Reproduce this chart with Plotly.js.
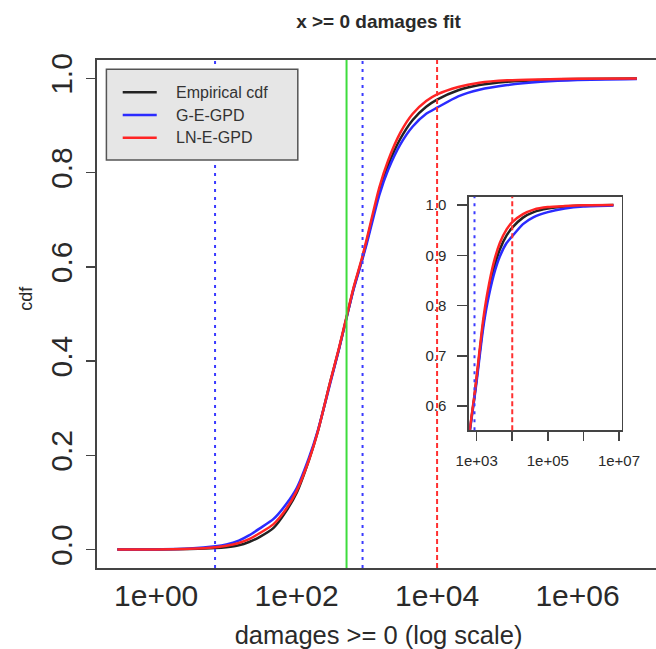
<!DOCTYPE html>
<html>
<head>
<meta charset="utf-8">
<script src="https://cdn.plot.ly/plotly-3.0.1.min.js"></script>
<style>html,body{margin:0;padding:0;overflow:hidden;background:#fff}</style>
</head>
<body>
<div id="chart" style="width:660px;height:649px"></div>
<script>
// ---- data ----
const damages = [0.28, 1, 3, 7, 10, 15, 21, 30, 47, 70, 100, 150, 200, 300, 400, 510, 650, 850, 1000, 1500, 2000, 3000, 4500, 7000, 10000, 20000, 40000, 100000, 300000, 1000000, 7000000];
const empiricalCdf = [0, 0, 0.001, 0.003, 0.005, 0.009, 0.016, 0.027, 0.046, 0.080, 0.120, 0.190, 0.250, 0.355, 0.425, 0.490, 0.555, 0.615, 0.655, 0.760, 0.815, 0.872, 0.912, 0.940, 0.955, 0.975, 0.986, 0.993, 0.997, 0.999, 1.0];
const gegpdCdf = [0, 0.0003, 0.002, 0.007, 0.011, 0.019, 0.030, 0.045, 0.065, 0.095, 0.130, 0.195, 0.252, 0.352, 0.425, 0.490, 0.553, 0.612, 0.650, 0.752, 0.805, 0.860, 0.898, 0.925, 0.938, 0.962, 0.976, 0.986, 0.993, 0.997, 0.999];
const lnegpdCdf = [0, 0.0002, 0.0015, 0.005, 0.008, 0.014, 0.022, 0.035, 0.054, 0.085, 0.124, 0.190, 0.250, 0.355, 0.427, 0.492, 0.557, 0.618, 0.660, 0.768, 0.825, 0.885, 0.925, 0.952, 0.966, 0.982, 0.991, 0.996, 0.998, 0.9995, 1.0];
const seriesNames = ['Empirical cdf', 'G-E-GPD', 'LN-E-GPD'];
const seriesColors = ['#222222', '#2b2bff', '#ff2424'];

const blueThresholds = [6.9, 869];      // dotted blue verticals
const greenThresholds = [514];          // solid green vertical
const redThresholds = [10000];          // dashed red vertical

const mainXTickVals = [1, 100, 10000, 1000000];
const mainXTickText = ['1e+00', '1e+02', '1e+04', '1e+06'];
const mainYTickVals = [0, 0.2, 0.4, 0.6, 0.8, 1.0];
const mainYTickText = ['0.0', '0.2', '0.4', '0.6', '0.8', '1.0'];
const insetXTickVals = [1e3, 1e4, 1e5, 1e6, 1e7];
const insetXTickText = ['1e+03', '', '1e+05', '', '1e+07'];
const insetYTickVals = [0.6, 0.7, 0.8, 0.9, 1.0];
const insetYTickText = ['0.6', '0.7', '0.8', '0.9', '1.0'];

// ---- layout geometry ----
const W = 660, H = 649;
const M = {l: 97.3, r: 0, t: 60, b: 81.3};
const PW = W - M.l - M.r, PH = H - M.t - M.b;
const px2x = p => (p - M.l) / PW;
const py2y = p => 1 - (p - M.t) / PH;
const FONT = 'Liberation Sans, Arial, Helvetica, sans-serif';
const AX = '#444', TXT = '#2a2a2a';
const MAIN_X_RANGE = [-0.842, 7.174];

const cdfs = [empiricalCdf, gegpdCdf, lnegpdCdf];
const traces = [];
cdfs.forEach((c, i) => traces.push({x: damages, y: c, type: 'scatter', mode: 'lines', name: seriesNames[i],
  line: {color: seriesColors[i], width: 2.5, shape: 'spline', smoothing: 0.6}, xaxis: 'x', yaxis: 'y', showlegend: false}));
cdfs.forEach((c, i) => traces.push({x: damages, y: c, type: 'scatter', mode: 'lines', name: seriesNames[i],
  line: {color: seriesColors[i], width: 2.5, shape: 'spline', smoothing: 0.6}, xaxis: 'x2', yaxis: 'y2', showlegend: false}));

const vline = (v, xref, yref, color, dash) => ({type: 'line', xref: xref, yref: yref,
  x0: v, x1: v, y0: 0, y1: 1, line: {color: color, width: 2, dash: dash}});
const shapes = [];
blueThresholds.forEach(v => shapes.push(vline(v, 'x', 'y domain', '#3b3bff', '3px,5px')));
greenThresholds.forEach(v => shapes.push(vline(v, 'x', 'y domain', '#3ddc3d', 'solid')));
redThresholds.forEach(v => shapes.push(vline(v, 'x', 'y domain', '#ff3030', '5px,3px')));
// inset verticals (only those inside the inset's range)
blueThresholds.filter(v => v > 600).forEach(v => shapes.push(vline(v, 'x2', 'y2 domain', '#3b3bff', '3px,5px')));
redThresholds.forEach(v => shapes.push(vline(v, 'x2', 'y2 domain', '#ff3030', '5px,3px')));

// legend box (R style)
const annotations = [];
shapes.push({type: 'rect', xref: 'paper', yref: 'paper', x0: px2x(106.7), x1: px2x(298), y0: py2y(160), y1: py2y(69.3),
  fillcolor: '#e6e6e6', line: {color: '#555', width: 1.5}});
const rowsY = [92.3, 115, 137.7];
seriesNames.forEach((n, i) => {
  shapes.push({type: 'line', xref: 'paper', yref: 'paper', x0: px2x(123), x1: px2x(157), y0: py2y(rowsY[i]), y1: py2y(rowsY[i]),
    line: {color: seriesColors[i], width: 2.5}});
  annotations.push({xref: 'paper', yref: 'paper', x: px2x(174), y: py2y(rowsY[i]), xanchor: 'left', yanchor: 'middle',
    text: n, showarrow: false, font: {family: FONT, size: 16, color: '#333'}});
});
// y-axis label
annotations.push({xref: 'paper', yref: 'paper', x: px2x(26), y: py2y(298), xanchor: 'center', yanchor: 'middle',
  text: 'cdf', textangle: -90, showarrow: false, font: {family: FONT, size: 18, color: TXT}});

const baseAxis = {showline: true, linecolor: AX, linewidth: 1.8, mirror: true, ticks: 'outside',
  tickcolor: AX, tickwidth: 1.5, showgrid: false, zeroline: false, tickmode: 'array'};

const layout = {
  width: W, height: H, margin: M, paper_bgcolor: '#fff', plot_bgcolor: '#fff',
  font: {family: FONT, color: TXT},
  title: {text: 'x >= 0 damages fit', font: {family: FONT, size: 19, weight: 'bold', color: TXT},
    x: 0.5, xref: 'paper', y: 1 - 21 / H, yref: 'container', yanchor: 'middle'},
  // main x axis: line + labels (labels sit close to the axis as in R)
  xaxis: Object.assign({}, baseAxis, {type: 'log', range: MAIN_X_RANGE, tickvals: mainXTickVals, ticktext: mainXTickText,
    ticks: '', tickfont: {size: 30, color: TXT},
    title: {text: 'damages >= 0 (log scale)', font: {size: 25.5, color: TXT}, standoff: 15}}),
  // overlaid copy of the main x axis that draws the outside tick marks
  xaxis3: {type: 'log', range: MAIN_X_RANGE, overlaying: 'x', anchor: 'y', side: 'bottom', tickmode: 'array',
    tickvals: mainXTickVals, ticks: 'outside', ticklen: 9, tickwidth: 1.5, tickcolor: AX,
    showticklabels: false, showline: false, showgrid: false, zeroline: false},
  yaxis: Object.assign({}, baseAxis, {range: [-0.0392, 1.0392], tickvals: mainYTickVals, ticktext: mainYTickText,
    ticklen: 9, tickangle: -90, tickfont: {size: 30, color: TXT}, ticklabelstandoff: 2}),
  xaxis2: Object.assign({}, baseAxis, {type: 'log', range: [2.79, 7.076], domain: [px2x(469.3), px2x(621.7)], anchor: 'y2',
    tickvals: insetXTickVals, ticktext: insetXTickText, ticklen: 9, tickfont: {size: 15, color: TXT}, ticklabelstandoff: 7}),
  yaxis2: Object.assign({}, baseAxis, {range: [0.552, 1.0165], domain: [py2y(430), py2y(196.7)], anchor: 'x2',
    tickvals: insetYTickVals, ticktext: insetYTickText, ticklen: 10, tickfont: {size: 15, color: TXT}, ticklabelstandoff: 8}),
  shapes: shapes, annotations: annotations, showlegend: false
};

Plotly.newPlot('chart', traces, layout, {displayModeBar: false, staticPlot: true});
</script>
</body>
</html>
